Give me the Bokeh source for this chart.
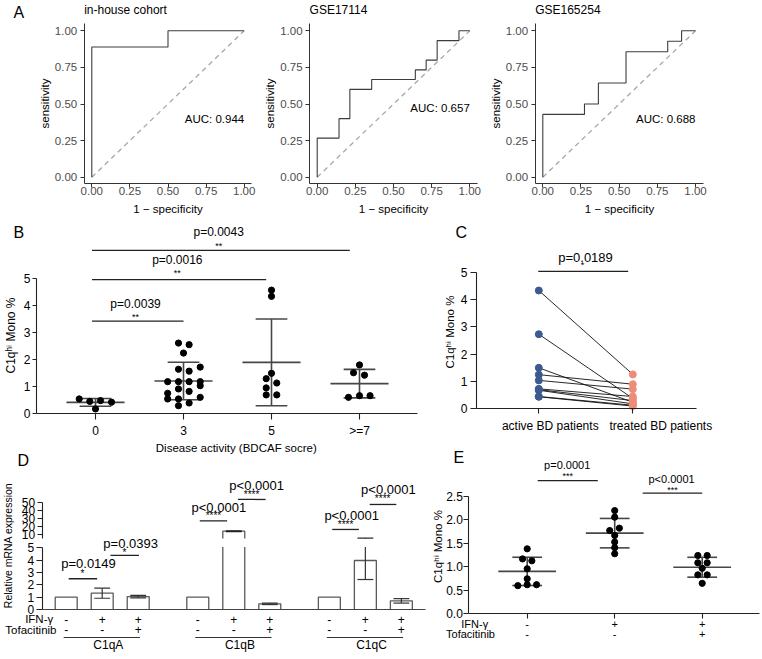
import numpy as np
from bokeh.plotting import figure
from bokeh.models import Range1d, LinearAxis, FixedTicker, NumeralTickFormatter
from bokeh.core.properties import value
from bokeh.embed import file_html
from bokeh.resources import INLINE

# ================= DATA =================
# Panel A: ROC curves (step vertices: 1 - specificity, sensitivity)
roc_titles = ["in-house cohort", "GSE17114", "GSE165254"]
roc_auc_labels = ["AUC: 0.944", "AUC: 0.657", "AUC: 0.688"]
roc1_fpr = [0.0, 0.0, 0.5, 0.5, 1.0]
roc1_tpr = [0.0, 0.889, 0.889, 1.0, 1.0]
roc2_fpr = [0.0, 0.0, 0.143, 0.143, 0.214, 0.214, 0.357, 0.357, 0.643, 0.643,
            0.714, 0.714, 0.786, 0.786, 0.929, 0.929, 1.0]
roc2_tpr = [0.0, 0.267, 0.267, 0.4, 0.4, 0.6, 0.6, 0.667, 0.667, 0.733,
            0.733, 0.8, 0.8, 0.933, 0.933, 1.0, 1.0]
roc3_fpr = [0.0, 0.0, 0.273, 0.273, 0.364, 0.364, 0.545, 0.545, 0.818, 0.818,
            0.909, 0.909, 1.0]
roc3_tpr = [0.0, 0.429, 0.429, 0.5, 0.5, 0.643, 0.643, 0.857, 0.857, 0.929,
            0.929, 1.0, 1.0]
roc_chance = [0.0, 1.0]
roc_ticks = [0.0, 0.25, 0.5, 0.75, 1.0]

# Panel B: C1q-hi monocytes vs BDCAF score
b_categories = ["0", "3", "5", ">=7"]
b_score0 = [0.55, 0.46, 0.49, 0.43, 0.18]
b_score3 = [2.62, 2.56, 2.25, 1.65, 1.58, 1.73, 1.19, 1.19, 1.19, 1.19, 1.04,
            0.92, 0.83, 0.76, 0.61, 0.55, 0.55, 0.40, 0.30]
b_score5 = [4.58, 4.35, 1.50, 1.30, 1.14, 0.96, 0.70, 0.70]
b_score7 = [0.61, 0.67, 0.67, 1.52, 1.43, 1.81]
b_jitter0 = [-0.185, -0.065, 0.057, 0.182, 0.0]
b_jitter3 = [-0.057, 0.064, 0.0, -0.057, 0.064, 0.19, -0.18, -0.057, 0.064, 0.19,
             0.19, -0.057, 0.064, -0.18, 0.19, -0.18, -0.057, 0.064, -0.057]
b_jitter5 = [0.0, 0.0, 0.0, -0.06, 0.06, -0.06, -0.06, 0.06]
b_jitter7 = [-0.125, 0.0, 0.12, -0.068, 0.057, 0.0]
b_ticks = [0, 1, 2, 3, 4, 5]
b_pvalues = ["p=0.0039", "p=0.0016", "p=0.0043"]
b_stars = ["**", "**", "**"]

# Panel C: paired active vs treated
c_categories = ["active BD patients", "treated BD patients"]
c_active = [4.33, 2.73, 1.50, 1.25, 1.04, 0.73, 0.70, 0.68, 0.45, 0.44]
c_treated = [1.26, 0.38, 0.24, 0.90, 0.72, 0.45, 0.30, 0.18, 0.13, 0.10]
c_ticks = [0, 1, 2, 3, 4, 5]
c_pvalue = "p=0.0189"
c_star = "*"

# Panel D: relative mRNA expression (mean, SD)
d_genes = ["C1qA", "C1qB", "C1qC"]
d_mean_c1qa = [1.0, 1.32, 1.05]
d_sd_c1qa = [0.0, 0.41, 0.10]
d_mean_c1qb = [1.0, 14.2, 0.46]
d_sd_c1qb = [0.0, 0.5, 0.06]
d_mean_c1qc = [1.0, 3.97, 0.70]
d_sd_c1qc = [0.0, 1.54, 0.18]
d_ifng = ["-", "+", "+"]
d_tofa = ["-", "-", "+"]
d_pvalues = ["p=0.0149", "p=0.0393", "p<0.0001", "p<0.0001", "p<0.0001", "p<0.0001"]
d_stars = ["*", "*", "****", "****", "****", "****"]
d_lower_ticks = [0, 1, 2, 3, 4, 5]
d_upper_ticks = [10, 20, 30, 40, 50]

# Panel E: C1q-hi monocytes after IFN-g / tofacitinib
e_ctrl = [1.385, 1.17, 1.13, 0.96, 0.746, 0.60, 0.62, 0.62]
e_ifn = [2.20, 2.06, 1.775, 1.825, 1.67, 1.53, 1.41, 1.28]
e_ifn_tofa = [1.243, 1.243, 1.087, 1.087, 0.97, 0.83, 0.83, 0.65]
e_jit_ctrl = [0.0, -0.053, 0.053, 0.0, 0.0, -0.107, 0.0, 0.107]
e_jit_ifn = [0.0, 0.0, -0.057, 0.053, 0.0, 0.0, 0.0, 0.0]
e_jit_ifn_tofa = [-0.05, 0.057, -0.05, 0.057, 0.0, -0.05, 0.057, 0.0]
e_ifng = ["-", "+", "+"]
e_tofa = ["-", "-", "+"]
e_ticks = [0.0, 0.5, 1.0, 1.5, 2.0, 2.5]
e_pvalues = ["p=0.0001", "p<0.0001"]
e_stars = ["***", "***"]

YLAB = "C1q\u02b0\u2071 Mono %"

# ================= LAYOUT =================
FONT = "Liberation Sans"
W, H, M = 762, 659, 0


def xmap(d0, p0, d1, p1):
    k = (d1 - d0) / (p1 - p0)
    return Range1d(start=d0 + (M - p0) * k, end=d0 + (M + W - p0) * k)


def ymap(d0, p0, d1, p1):
    k = (d1 - d0) / (p1 - p0)
    return Range1d(start=d0 + (M + H - p0) * k, end=d0 + (M - p0) * k)


p = figure(width=W, height=H, x_range=Range1d(M, M + W), y_range=Range1d(M + H, M),
           x_axis_type=None, y_axis_type=None, toolbar_location=None,
           output_backend="svg", min_border=0, outline_line_color=None,
           background_fill_color="white", border_fill_color="white")
p.min_border_left = p.min_border_right = p.min_border_top = p.min_border_bottom = 0

p.extra_x_ranges = {
    "A0": xmap(0, 91.3, 1, 243.7), "A1": xmap(0, 316.7, 1, 469.3),
    "A2": xmap(0, 542.3, 1, 695.0), "B": xmap(0, 95, 1, 183),
    "C": xmap(0, 538.3, 1, 632.3), "D": xmap(0, 65.7, 1, 101.7),
    "E": xmap(0, 526.7, 1, 614.2),
}
p.extra_y_ranges = {
    "A": ymap(0, 176.7, 1, 30.3), "B": ymap(0, 413.3, 5, 278.3),
    "C": ymap(0, 408.3, 5, 271.7), "Dl": ymap(0, 609, 5, 547.3),
    "Du": ymap(5, 538, 50, 502.3), "E": ymap(0, 613.3, 2.5, 496),
}


def txt(xr, yr, xs, ys, texts, size, align="center", baseline="middle",
        color="black", angle=0.0):
    p.text(x=list(xs), y=list(ys), text=list(texts), x_range_name=xr, y_range_name=yr,
           text_font=value(FONT), text_font_size=f"{size}px", text_align=align,
           text_baseline=baseline, text_color=color, angle=angle)


def seg(xr, yr, x0, y0, x1, y1, color="#222222", width=1.3):
    p.segment(x0=list(x0), y0=list(y0), x1=list(x1), y1=list(y1),
              x_range_name=xr, y_range_name=yr, line_color=color, line_width=width)


def add_axis(side, xr, yr, loc, bounds, ticks, tick_out, standoff, size,
             label_color="black", line_color="#222222", line_width=1.1,
             overrides=None, fmt=None, title=None, title_size=11.5, title_standoff=2):
    ax = LinearAxis(x_range_name=xr, y_range_name=yr, fixed_location=loc,
                    bounds=bounds, ticker=FixedTicker(ticks=list(ticks)))
    if fmt:
        ax.formatter = NumeralTickFormatter(format=fmt)
    if overrides is not None:
        ax.major_label_overrides = overrides
    ax.major_tick_in = 0
    ax.major_tick_out = int(tick_out)
    ax.minor_tick_in = 0
    ax.minor_tick_out = 0
    ax.major_label_standoff = int(standoff)
    ax.major_label_text_font = FONT
    ax.major_label_text_font_size = f"{size}px"
    ax.major_label_text_color = label_color
    ax.axis_line_color = line_color
    ax.axis_line_width = line_width
    ax.major_tick_line_color = line_color
    ax.major_tick_line_width = line_width
    if title:
        ax.axis_label = title
        ax.axis_label_text_font = FONT
        ax.axis_label_text_font_size = f"{title_size}px"
        ax.axis_label_text_font_style = "normal"
        ax.axis_label_text_color = "black"
        ax.axis_label_standoff = int(title_standoff)
    p.add_layout(ax, side)
    return ax


# ---------------- Panel A ----------------
rocs = [(roc1_fpr, roc1_tpr), (roc2_fpr, roc2_tpr), (roc3_fpr, roc3_tpr)]
auc_y = [0.40, 0.47, 0.40]
for i, (fpr, tpr) in enumerate(rocs):
    xr = f"A{i}"
    p.line(roc_chance, roc_chance, x_range_name=xr, y_range_name="A",
           line_color="#a8a8a8", line_width=1.3, line_dash="5 4")
    p.line(fpr, tpr, x_range_name=xr, y_range_name="A", line_color="#3c3c3c", line_width=1.1)
    add_axis("left", xr, "A", -0.05, (-0.04, 1.05), roc_ticks, 4, 3, 11.5,
             label_color="#4d4d4d", line_color="#333333", line_width=1.0, fmt="0.00",
             title="sensitivity", title_standoff=1)
    add_axis("below", xr, "A", -0.04, (-0.05, 1.05), roc_ticks, 4, 0, 11.5,
             label_color="#4d4d4d", line_color="#333333", line_width=1.0, fmt="0.00",
             title="1 \u2212 specificity", title_standoff=4)
    txt(xr, "A", [-0.05], [1.139], [roc_titles[i]], 12, align="left")
    txt(xr, "A", [1.0], [auc_y[i]], [roc_auc_labels[i]], 11.5, align="right")
txt("A0", "A", [-0.514], [1.125], ["A"], 16, align="left")


# ---------------- dot plot helper (B, E) ----------------
def dot_group(xr, yr, g, vals, jit, half=0.33, cap=0.18):
    vals = np.asarray(vals)
    xs = g + np.asarray(jit)
    m = float(np.mean(vals))
    s = float(np.std(vals, ddof=1))
    seg(xr, yr, [g - half, g - cap, g - cap, g], [m, m + s, m - s, m - s],
        [g + half, g + cap, g + cap, g], [m, m + s, m - s, m + s],
        color="#474747", width=1.6)
    p.scatter(xs, vals, x_range_name=xr, y_range_name=yr, size=6.2,
              fill_color="black", line_color="black")


# ---------------- Panel B ----------------
for g, (vals, jit) in enumerate([(b_score0, b_jitter0), (b_score3, b_jitter3),
                                 (b_score5, b_jitter5), (b_score7, b_jitter7)]):
    dot_group("B", "B", g, vals, jit)
add_axis("left", "B", "B", -0.670, (0, 5), b_ticks, 4, 2, 12)
add_axis("below", "B", "B", 0, (-0.670, 3.659), range(4), 6, 4, 12,
         overrides={i: c for i, c in enumerate(b_categories)})
txt("B", "B", [1.60], [-1.285], ["Disease activity (BDCAF socre)"], 11.5)
txt("B", "B", [-0.955], [2.90], [YLAB], 12, angle=np.pi / 2)
txt("B", "B", [-0.932], [6.70], ["B"], 16, align="left")
seg("B", "B", [-0.04, -0.04, -0.04], [3.43, 4.97, 6.05], [1.0, 1.94, 2.89], [3.43, 4.97, 6.05])
txt("B", "B", [0.455, 0.93, 1.40], [4.05, 5.71, 6.73], b_pvalues, 12)
txt("B", "B", [0.455, 0.93, 1.40], [3.60, 5.23, 6.23], b_stars, 9)

# ---------------- Panel C ----------------
n = len(c_active)
seg("C", "C", [0] * n, c_active, [1] * n, c_treated, color="#111111", width=0.9)
p.scatter([0] * n, c_active, x_range_name="C", y_range_name="C", size=7,
          fill_color="#3d5a8f", line_color="#3d5a8f")
p.scatter([1] * n, c_treated, x_range_name="C", y_range_name="C", size=7,
          fill_color="#ee8c79", line_color="#ee8c79")
add_axis("left", "C", "C", -0.663, (0, 5), c_ticks, 6, 3, 12)
add_axis("below", "C", "C", 0, (-0.663, 1.678), [0, 1], 5, 5, 12,
         overrides={0: "", 1: ""})
txt("C", "C", [0.122, 1.298], [-0.63, -0.63], c_categories, 12)
txt("C", "C", [-0.947], [2.81], [YLAB], 11.5, angle=np.pi / 2)
txt("C", "C", [-0.886], [6.46], ["C"], 16, align="left")
seg("C", "C", [-0.006], [5.03], [0.951], [5.03])
txt("C", "C", [0.497], [5.55], [c_pvalue], 13)
txt("C", "C", [0.465], [5.25], [c_star], 9)

# ---------------- Panel D (broken y axis) ----------------
D_GAP = 3.655
LO_TOP = 5.07
UP_BOT = 5.0
BW = 0.61
CW = 0.22
d_means = [d_mean_c1qa, d_mean_c1qb, d_mean_c1qc]
d_sds = [d_sd_c1qa, d_sd_c1qb, d_sd_c1qc]
lo_x, lo_top, up_x, up_top = [], [], [], []
ol_xs, ol_ys, ou_xs, ou_ys = [], [], [], []
el = [[], [], [], []]
eu = [[], [], [], []]


def push(e, a, b, c, d):
    e[0].append(a); e[1].append(b); e[2].append(c); e[3].append(d)


for g in range(3):
    for j in range(3):
        x = g * D_GAP + j
        v = d_means[g][j]
        s = d_sds[g][j]
        L, R = x - BW / 2, x + BW / 2
        lo_x.append(x)
        lo_top.append(min(v, LO_TOP))
        if v <= LO_TOP:
            ol_xs.append([L, L, R, R]); ol_ys.append([0, v, v, 0])
        else:
            ol_xs += [[L, L], [R, R]]; ol_ys += [[0, LO_TOP], [0, LO_TOP]]
            up_x.append(x); up_top.append(v)
            ou_xs.append([L, L, R, R]); ou_ys.append([UP_BOT, v, v, UP_BOT])
        if s > 0:
            lo, hi = v - s, v + s
            a, b = max(lo, 0), min(hi, LO_TOP)
            if b > a:
                push(el, x, a, x, b)
            for yy in (lo, hi):
                if 0 <= yy <= LO_TOP:
                    push(el, x - CW, yy, x + CW, yy)
                if yy > UP_BOT:
                    push(eu, x - CW, yy, x + CW, yy)
            if hi > UP_BOT:
                push(eu, x, max(lo, UP_BOT), x, hi)

p.vbar(x=lo_x, top=lo_top, bottom=0, width=BW, x_range_name="D", y_range_name="Dl",
       fill_color="white", line_color=None)
p.vbar(x=up_x, top=up_top, bottom=UP_BOT, width=BW, x_range_name="D", y_range_name="Du",
       fill_color="white", line_color=None)
p.multi_line(ol_xs, ol_ys, x_range_name="D", y_range_name="Dl", line_color="#5a5a5a", line_width=1.3)
p.multi_line(ou_xs, ou_ys, x_range_name="D", y_range_name="Du", line_color="#5a5a5a", line_width=1.3)
seg("D", "Dl", *el, color="#333333", width=1.2)
seg("D", "Du", *eu, color="#222222", width=1.2)

add_axis("left", "D", "Dl", -0.667, (0, 5), d_lower_ticks, 6, 2, 12)
add_axis("left", "D", "Du", -0.667, (5, 50), d_upper_ticks, 5, 2, 12)
add_axis("below", "D", "Dl", 0, (-0.667, 9.98), [], 0, 0, 12, line_color="#444444")
txt("D", "Dl", [-1.63], [5.19], ["Relative mRNA expression"], 10.5, angle=np.pi / 2)
txt("D", "Du", [-1.353], [103.4], ["D"], 16, align="left")

bar_x = [g * D_GAP + j for g in range(3) for j in range(3)]
txt("D", "Dl", bar_x, [-0.81] * 9, d_ifng * 3, 12)
txt("D", "Dl", bar_x, [-1.65] * 9, d_tofa * 3, 12)
txt("D", "Dl", [-0.36], [-0.81], ["IFN-\u03b3"], 11.5, align="right")
txt("D", "Dl", [-0.27], [-1.65], ["Tofacitinib"], 11.5, align="right")
gx = [g * D_GAP for g in range(3)]
seg("D", "Dl", [x - 0.07 for x in gx], [-2.27] * 3, [x + 2.05 for x in gx], [-2.27] * 3,
    color="#333333", width=1.1)
txt("D", "Dl", [x + 1.17 for x in gx], [-2.84] * 3, d_genes, 12)

# brackets C1qA (lower scale)
seg("D", "Dl", [0.07, 1.23], [2.49, 4.38], [0.86, 2.02], [2.49, 4.38])
txt("D", "Dl", [0.62, 1.79], [3.70, 5.32], d_pvalues[0:2], 13)
txt("D", "Dl", [0.45, 1.62], [2.94, 4.62], d_stars[0:2], 10)
# brackets C1qB / C1qC (upper scale)
seg("D", "Du", [3.71, 4.77, 7.39, 8.43], [27.3, 54.2, 16.4, 47.9],
    [4.47, 5.54, 8.13, 9.17], [27.3, 54.2, 16.4, 47.9])
txt("D", "Du", [4.24, 5.29, 7.93, 8.95], [44.5, 71.9, 34.0, 66.5], d_pvalues[2:], 13)
txt("D", "Du", [4.09, 5.15, 7.76, 8.79], [33.6, 60.1, 22.3, 55.5], d_stars[2:], 10)

# ---------------- Panel E ----------------
for g, (vals, jit) in enumerate([(e_ctrl, e_jit_ctrl), (e_ifn, e_jit_ifn),
                                 (e_ifn_tofa, e_jit_ifn_tofa)]):
    dot_group("E", "E", g, vals, jit, half=0.33, cap=0.17)
add_axis("left", "E", "E", -0.667, (0, 2.5), e_ticks, 5, 1, 12, fmt="0.0")
add_axis("below", "E", "E", 0, (-0.667, 2.66), [0, 1, 2], 5, 0, 12,
         overrides={0: "", 1: "", 2: ""})
txt("E", "E", [-1.025], [1.434], [YLAB], 11.5, angle=np.pi / 2)
txt("E", "E", [-0.842], [3.33], ["E"], 16, align="left")
txt("E", "E", [0, 1, 2], [-0.228] * 3, e_ifng, 11)
txt("E", "E", [0, 1, 2], [-0.441] * 3, e_tofa, 11)
txt("E", "E", [-0.60], [-0.228], ["IFN-\u03b3"], 11)
txt("E", "E", [-0.648], [-0.441], ["Tofacitinib"], 11)
seg("E", "E", [0.12, 1.32], [2.84, 2.57], [0.807, 2.0], [2.84, 2.57])
txt("E", "E", [0.457, 1.65], [3.18, 2.88], e_pvalues, 11)
txt("E", "E", [0.464, 1.66], [2.94, 2.64], e_stars, 9)

open("out.html", "w").write(file_html(p, INLINE, title="C1q figure"))
